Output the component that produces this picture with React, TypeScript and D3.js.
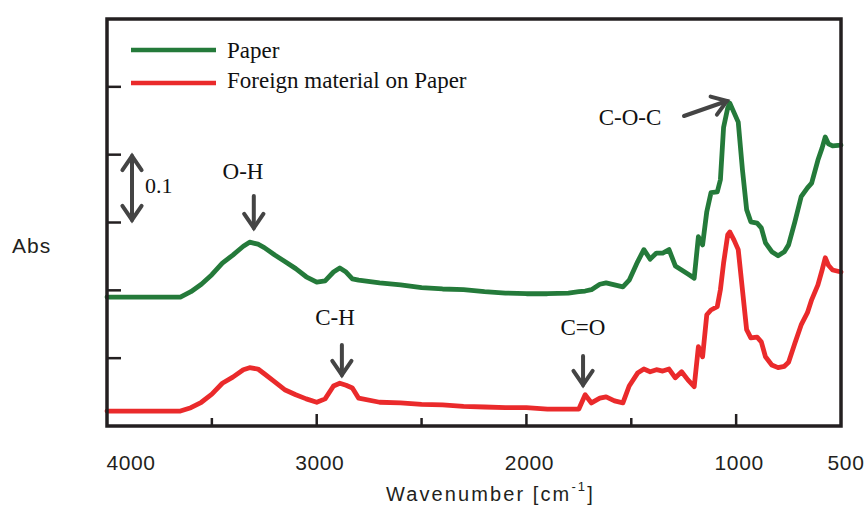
import React from 'react';
import * as d3 from 'd3';

// wavenumber grid (cm-1) and absorbance
const wavenumbers = [
  4000, 3900, 3800, 3700, 3650, 3600, 3550, 3500, 3450, 3400, 3350, 3320, 3280, 3250, 3200,
  3150, 3100, 3050, 3000, 2960, 2920, 2890, 2860, 2830, 2800, 2700, 2600, 2500, 2400, 2300,
  2200, 2100, 2000, 1900, 1800, 1750, 1720, 1690, 1650, 1620, 1580, 1540, 1510, 1470, 1440,
  1410, 1380, 1350, 1320, 1290, 1260, 1230, 1200, 1180, 1160, 1140, 1120, 1090, 1075, 1060,
  1040, 1030, 1010, 990, 970, 950, 930, 900, 880, 860, 830, 800, 770, 750, 720,
  690, 660, 640, 610, 590, 575, 560, 540, 500
];

const paperAbs = [
  0.190, 0.190, 0.190, 0.190, 0.190, 0.198, 0.209, 0.223, 0.240, 0.252, 0.265, 0.271, 0.268, 0.263, 0.252,
  0.242, 0.232, 0.220, 0.212, 0.214, 0.227, 0.233, 0.227, 0.217, 0.215, 0.211, 0.208, 0.204, 0.202, 0.201,
  0.198, 0.196, 0.195, 0.195, 0.196, 0.198, 0.199, 0.201, 0.209, 0.211, 0.208, 0.205, 0.215, 0.242, 0.260,
  0.246, 0.255, 0.255, 0.260, 0.236, 0.230, 0.224, 0.218, 0.279, 0.267, 0.316, 0.344, 0.345, 0.363, 0.440,
  0.469, 0.476, 0.462, 0.448, 0.378, 0.319, 0.301, 0.299, 0.292, 0.270, 0.257, 0.251, 0.257, 0.267, 0.301,
  0.338, 0.351, 0.358, 0.392, 0.410, 0.426, 0.416, 0.413, 0.414
];

const foreignAbs = [
  0.022, 0.022, 0.022, 0.022, 0.022, 0.027, 0.035, 0.047, 0.063, 0.072, 0.083, 0.086, 0.084, 0.077, 0.065,
  0.053, 0.046, 0.040, 0.035, 0.040, 0.059, 0.063, 0.060, 0.056, 0.041, 0.035, 0.034, 0.032, 0.031, 0.029,
  0.028, 0.027, 0.027, 0.025, 0.025, 0.025, 0.046, 0.034, 0.041, 0.043, 0.037, 0.034, 0.059, 0.078, 0.084,
  0.080, 0.083, 0.081, 0.084, 0.071, 0.080, 0.068, 0.058, 0.117, 0.102, 0.164, 0.171, 0.176, 0.201, 0.240,
  0.282, 0.286, 0.274, 0.260, 0.201, 0.142, 0.130, 0.131, 0.124, 0.102, 0.090, 0.086, 0.088, 0.094, 0.122,
  0.149, 0.167, 0.186, 0.208, 0.230, 0.248, 0.237, 0.230, 0.227
];

const seriesNames = ['Paper', 'Foreign material on Paper'];
const seriesColors = ['#247a3a', '#ea2a2b'];

const xTickLabels = [4000, 3000, 2000, 1000, 500];
const xMinorTicks = [3500, 2500, 1500];
const yTicks = [0.1, 0.2, 0.3, 0.4, 0.5];

const SANS = '"Liberation Sans", Arial, sans-serif';
const SERIF = '"Liberation Serif", "Times New Roman", serif';
const INK = '#231f20';
const ARROW = '#444444';

type ArrowProps = { x1: number; y1: number; x2: number; y2: number; double?: boolean };

const headPath = (x1: number, y1: number, x2: number, y2: number) => {
  const a = Math.atan2(y2 - y1, x2 - x1);
  const len = 17;
  const spread = 0.6;
  const p1 = [x2 - len * Math.cos(a - spread), y2 - len * Math.sin(a - spread)];
  const p2 = [x2 - len * Math.cos(a + spread), y2 - len * Math.sin(a + spread)];
  return `M${p1[0]},${p1[1]}L${x2},${y2}L${p2[0]},${p2[1]}`;
};

const Arrow = ({ x1, y1, x2, y2, double }: ArrowProps) => (
  <g stroke={ARROW} strokeWidth={4} fill="none" strokeLinecap="round" strokeLinejoin="miter">
    <line x1={x1} y1={y1} x2={x2} y2={y2} />
    <path d={headPath(x1, y1, x2, y2)} />
    {double && <path d={headPath(x2, y2, x1, y1)} />}
  </g>
);

export default function App() {
  const width = 868;
  const height = 505;
  const left = 107, right = 841, top = 19, bottom = 426;

  const x = d3.scaleLinear().domain([4000, 500]).range([left, right]);
  const y = d3.scaleLinear().domain([0, 0.6]).range([bottom, top]);

  const line = d3.line<number>()
    .x((_, i) => x(wavenumbers[i]))
    .y(d => y(d))
    .curve(d3.curveLinear);

  const spectra = [paperAbs, foreignAbs];

  // label x offsets so the end labels stay inside the picture
  const labelX = (v: number) => {
    if (v === 4000) return x(v) + 24;
    if (v === 500) return x(v) + 5;
    return x(v) + 3;
  };

  return (
    <svg width={width} height={height} style={{ position: 'absolute', left: 0, top: 0, background: '#fff' }}>
      {/* spectra */}
      {spectra.map((s, i) => (
        <path key={i} d={line(s) || ''} fill="none" stroke={seriesColors[i]} strokeWidth={4.8}
          strokeLinejoin="round" strokeLinecap="round" />
      ))}

      {/* frame */}
      <rect x={left} y={top} width={right - left} height={bottom - top} fill="none" stroke={INK} strokeWidth={3.5} />

      {/* y ticks */}
      {yTicks.map(t => (
        <line key={t} x1={left} x2={left + 14} y1={y(t)} y2={y(t)} stroke={INK} strokeWidth={2.5} />
      ))}

      {/* x ticks */}
      {xTickLabels.filter(v => v !== 4000 && v !== 500).map(v => (
        <line key={v} x1={x(v)} x2={x(v)} y1={bottom} y2={bottom - 12} stroke={INK} strokeWidth={2.5} />
      ))}
      {xMinorTicks.map(v => (
        <line key={v} x1={x(v)} x2={x(v)} y1={bottom} y2={bottom - 8} stroke={INK} strokeWidth={2.5} />
      ))}

      {/* x tick labels */}
      {xTickLabels.map(v => (
        <text key={v} x={labelX(v)} y={470} textAnchor="middle" fontFamily={SANS} fontSize={21}
          letterSpacing={0.6} fill={INK}>{v}</text>
      ))}

      {/* axis titles */}
      <text x={12} y={253} fontFamily={SANS} fontSize={21} letterSpacing={1} fill={INK}>Abs</text>
      <text x={386} y={501} fontFamily={SANS} fontSize={20} letterSpacing={2.1} fill={INK}>
        Wavenumber [cm<tspan fontSize={13} dy={-10}>-1</tspan><tspan dy={10}>]</tspan>
      </text>

      {/* legend */}
      {seriesNames.map((n, i) => (
        <g key={n}>
          <line x1={131} x2={216} y1={50 + i * 33} y2={50 + i * 33} stroke={seriesColors[i]} strokeWidth={4.5} />
          <text x={227} y={58 + i * 30} fontFamily={SERIF} fontSize={23} fill="#111">{n}</text>
        </g>
      ))}

      {/* scale bar */}
      <Arrow x1={132} y1={220} x2={132} y2={156} double />
      <text x={145} y={193} fontFamily={SERIF} fontSize={22} fill="#111">0.1</text>

      {/* band annotations */}
      <text x={243} y={179} textAnchor="middle" fontFamily={SERIF} fontSize={23} fill="#111">O-H</text>
      <Arrow x1={x(3300)} y1={196} x2={x(3300)} y2={228} />

      <text x={335} y={325} textAnchor="middle" fontFamily={SERIF} fontSize={23} fill="#111">C-H</text>
      <Arrow x1={x(2880)} y1={345} x2={x(2880)} y2={375} />

      <text x={583} y={335} textAnchor="middle" fontFamily={SERIF} fontSize={23} fill="#111">C=O</text>
      <Arrow x1={x(1730)} y1={356} x2={x(1730)} y2={385} />

      <text x={630} y={125} textAnchor="middle" fontFamily={SERIF} fontSize={23} fill="#111">C-O-C</text>
      <Arrow x1={684} y1={116} x2={727} y2={101} />
    </svg>
  );
}
